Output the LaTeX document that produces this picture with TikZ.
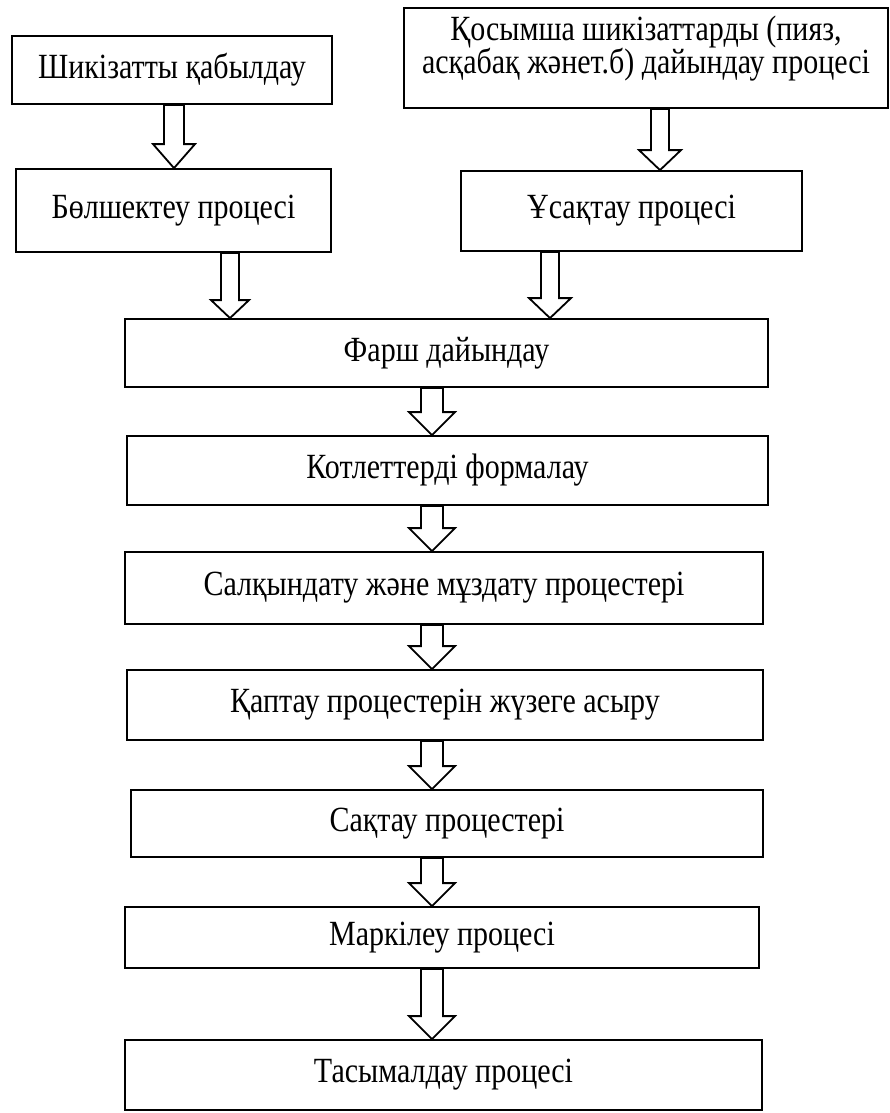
\documentclass[tikz,border=0pt]{standalone}
\usepackage{fontspec}
\setmainfont{Liberation Serif}
\usetikzlibrary{calc}
\newcommand\vst[1]{\scalebox{1}[1.18]{#1}}
\tikzset{
  box/.style={draw, line width=1.8pt, rectangle, inner sep=0pt, align=center,
    font=\fontsize{30}{33}\selectfont},
  barrow/.style={draw, line width=1.8pt, fill=white, line join=miter},
}
% #1 x position, #2 source node, #3 target node, #4 shaft half width, #5 head half width, #6 head length
\newcommand\blockarrow[6]{%
  \draw[barrow] let \p1=(#2.south), \p2=(#3.north) in
    ({#1pt-#4pt},\y1) -- ({#1pt-#4pt},{\y2+#6pt}) -- ({#1pt-#5pt},{\y2+#6pt})
    -- ({#1pt},\y2) -- ({#1pt+#5pt},{\y2+#6pt}) -- ({#1pt+#4pt},{\y2+#6pt})
    -- ({#1pt+#4pt},\y1) -- cycle;}
\begin{document}
\begin{tikzpicture}[x=1pt,y=-1pt]
\useasboundingbox (0,0) rectangle (890,1113);
\node[box, minimum width=320pt, minimum height=68pt] (b1) at (172,70) {\vst{Шикізатты қабылдау}};
\node[box, minimum width=315pt, minimum height=83pt] (b2) at (173.5,210.5) {\vst{Бөлшектеу процесі}};
\node[box, minimum width=484pt, minimum height=100pt,
  label={[font=\fontsize{30}{33}\selectfont, align=center, yshift=9pt]center:\vst{Қосымша шикізаттарды (пияз,}\\\vst{асқабақ жәнет.б) дайындау процесі}}] (b3) at (646,58) {};
\node[box, minimum width=341pt, minimum height=80pt] (b4) at (631.5,211) {\vst{Ұсақтау процесі}};
\node[box, minimum width=643pt, minimum height=68pt] (c1) at (446.5,353) {\vst{Фарш дайындау}};
\node[box, minimum width=641pt, minimum height=69pt] (c2) at (447.5,470.5) {\vst{Котлеттерді формалау}};
\node[box, minimum width=638pt, minimum height=72pt] (c3) at (444,588) {\vst{Салқындату және мұздату процестері}};
\node[box, minimum width=636pt, minimum height=70pt] (c4) at (445,705) {\vst{Қаптау процестерін жүзеге асыру}};
\node[box, minimum width=632pt, minimum height=67pt] (c5) at (447,823.5) {\vst{Сақтау процестері}};
\node[box, minimum width=634pt, minimum height=61pt] (c6) at (442,937.5) {\vst{Маркілеу процесі}};
\node[box, minimum width=637pt, minimum height=70pt] (c7) at (443.5,1075) {\vst{Тасымалдау процесі}};
\blockarrow{174}{b1}{b2}{10}{21}{24}
\blockarrow{660}{b3}{b4}{9}{21}{20}
\blockarrow{230}{b2}{c1}{9}{19}{18}
\blockarrow{550}{b4}{c1}{9}{21}{20}
\blockarrow{432}{c1}{c2}{11}{23}{23}
\blockarrow{432}{c2}{c3}{11}{23}{23}
\blockarrow{432}{c3}{c4}{11}{23}{23}
\blockarrow{432}{c4}{c5}{11}{23}{23}
\blockarrow{432}{c5}{c6}{11}{23}{23}
\blockarrow{432}{c6}{c7}{11}{23}{23}
\end{tikzpicture}
\end{document}
